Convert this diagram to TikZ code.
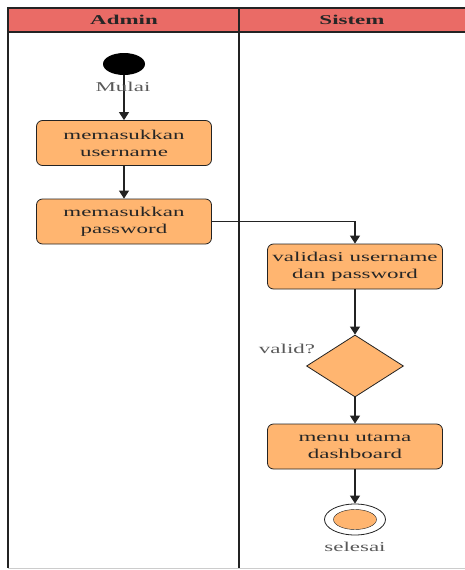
\documentclass[tikz,border=0pt]{standalone}
\usepackage{fontspec}
\setmainfont{Liberation Serif}[FakeStretch=1.7]
\usepackage{tikz}
\usetikzlibrary{shapes.geometric, positioning, arrows.meta}
\definecolor{HeaderMerah}{RGB}{234, 107, 102}
\definecolor{IsiOranye}{RGB}{255, 181, 112}
\definecolor{GarisGelap}{RGB}{35, 35, 35}

\begin{document}
\begin{tikzpicture}[x=1pt, y=-1pt,
    aktivitas/.style={draw=GarisGelap, fill=IsiOranye, rounded corners=6pt, thick,
        minimum width=175pt, minimum height=45pt, align=center,
        font=\fontsize{13.5}{17}\selectfont, text=black!85},
    keputusan/.style={diamond, draw=GarisGelap, fill=IsiOranye, thick,
        minimum width=97pt, minimum height=62pt, inner sep=0pt},
    awal/.style={ellipse, fill=black, minimum width=42pt, minimum height=22pt, inner sep=0pt},
    akhir/.style={ellipse, draw=GarisGelap, fill=white, thick, minimum width=61pt, minimum height=31pt, inner sep=0pt},
    keterangan/.style={font=\fontsize{13.5}{17}\selectfont, text=black!65},
    kepala/.style={font=\bfseries\fontsize{13.5}{17}\selectfont, text=black!85},
    panah/.style={-{Triangle[width=10pt,length=8pt]}, line width=1.1pt, GarisGelap}
]
    \useasboundingbox (0,0) rectangle (465,570);

    % Swimlane
    \fill[HeaderMerah] (8,8) rectangle (466,32);
    \draw[GarisGelap, line width=1.2pt] (466,8) -- (8,8) -- (8,568);
    \draw[GarisGelap, line width=1.2pt] (8,32) -- (466,32);
    \draw[GarisGelap, line width=1.2pt] (239,8) -- (239,568);
    \draw[gray!40, line width=1pt] (8,568) -- (466,568);
    \node[kepala] (kolomAdmin) at (124,20) {Admin};
    \node[kepala] (kolomSistem) at (352,20) {Sistem};

    % Aktivitas admin
    \node[awal] (mulai) at (124,64) {};
    \node[aktivitas] (masukUser) at (124,143) {memasukkan\\username};
    \node[aktivitas] (masukPass) at (124,221.5) {memasukkan\\password};

    % Aktivitas sistem
    \node[aktivitas] (validasi) at (355,266.5) {validasi username\\dan password};
    \node[keputusan] (cekValid) at (355,366) {};
    \node[aktivitas] (menuUtama) at (355,446.5) {menu utama\\dashboard};
    \node[akhir] (selesai) at (355,519.5) {};
    \node[ellipse, draw=GarisGelap, fill=IsiOranye, minimum width=43pt, minimum height=20pt,
        inner sep=0pt] (selesaiDalam) at (selesai) {};

    % Alur
    \draw[panah] (mulai) -- (masukUser);
    \draw[panah] (masukUser) -- (masukPass);
    \draw[panah] (masukPass.east) -| (validasi.north);
    \draw[panah] (validasi) -- (cekValid);
    \draw[panah] (cekValid) -- (menuUtama);
    \draw[panah] (menuUtama) -- (selesai);

    % Keterangan
    \node[keterangan] (teksMulai) at (123,87) {Mulai};
    \node[keterangan] (teksValid) at (287,349) {valid?};
    \node[keterangan] (teksSelesai) at (355,547) {selesai};
\end{tikzpicture}
\end{document}
